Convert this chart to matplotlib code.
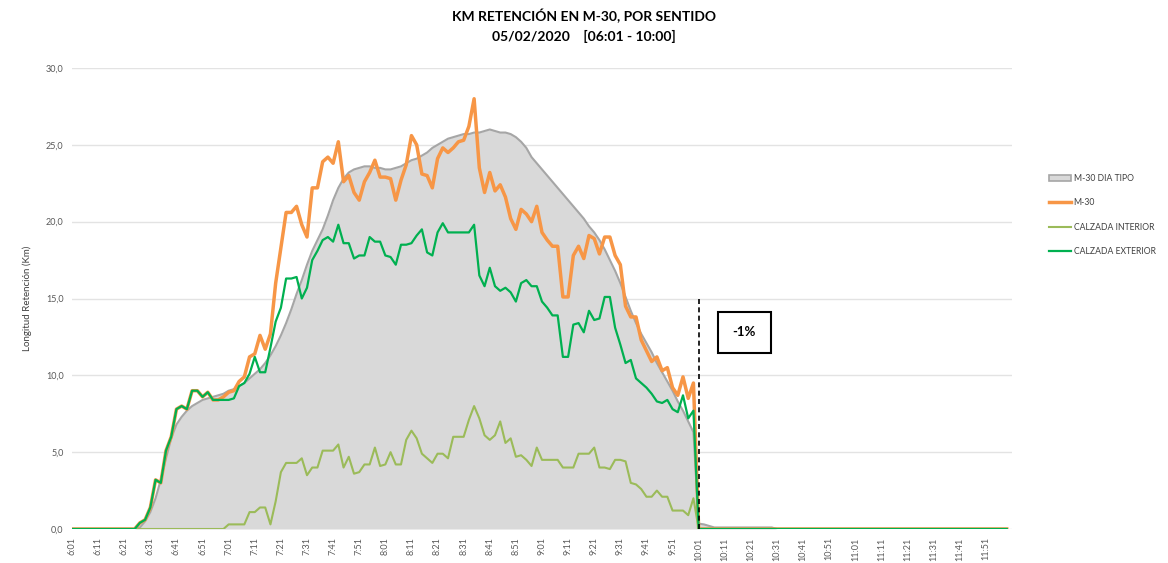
import numpy as np
import matplotlib
matplotlib.use("Agg")
import matplotlib.pyplot as plt
from matplotlib.patches import Patch
from matplotlib.lines import Line2D

plt.rcParams['font.family'] = ['Lato', 'DejaVu Sans']

# minutes after 6:01, sampled every 2 minutes up to 12:00
minutes = np.arange(0, 360, 2)
tick_minutes = np.arange(0, 360, 10)
tick_labels = ["%d:%02d" % (6 + (m + 1) // 60, (m + 1) % 60) for m in tick_minutes]

# M-30 DIA TIPO (typical day), km
dia_tipo = [0.0] * 13 + [
    0.1, 0.5, 1.1, 2.0, 3.2, 4.6, 5.9, 6.8, 7.3, 7.7,
    8.0, 8.2, 8.4, 8.5, 8.6, 8.7, 8.8, 9.0, 9.1, 9.3,
    9.5, 9.8, 10.1, 10.4, 10.8, 11.3, 11.9, 12.6, 13.4, 14.3,
    15.3, 16.2, 17.2, 18.1, 18.8, 19.5, 20.4, 21.4, 22.2, 22.8,
    23.2, 23.4, 23.5, 23.6, 23.6, 23.5, 23.5, 23.4, 23.4, 23.5,
    23.6, 23.8, 24.0, 24.1, 24.3, 24.5, 24.8, 25.0, 25.2, 25.4,
    25.5, 25.6, 25.7, 25.7, 25.8, 25.8, 25.9, 26.0, 25.9, 25.8,
    25.8, 25.7, 25.5, 25.2, 24.8, 24.2, 23.8, 23.4, 23.0, 22.6,
    22.2, 21.8, 21.4, 21.0, 20.6, 20.2, 19.7, 19.3, 18.8, 18.2,
    17.5, 16.8, 16.0, 15.1, 14.2, 13.4, 12.7, 12.1, 11.5, 10.8,
    10.2, 9.6, 9.0, 8.3, 7.7, 7.0, 6.3,
] + [0.35, 0.3, 0.2] + [0.1] * 12 + [0.0] * 45

# M-30 total
m30 = [0.0] * 13 + [
    0.4, 0.6, 1.4, 3.2, 3.0, 5.1, 6.0, 7.8, 8.0, 7.8,
    9.0, 9.0, 8.6, 8.9, 8.4, 8.4, 8.6, 8.9, 9.0, 9.6,
    9.9, 11.2, 11.4, 12.6, 11.7, 12.7, 16.0, 18.3, 20.6, 20.6,
    21.0, 19.8, 19.0, 22.2, 22.2, 23.9, 24.2, 23.8, 25.2, 22.6,
    23.0, 21.9, 21.4, 22.6, 23.2, 24.0, 22.9, 22.9, 22.8, 21.4,
    22.7, 23.7, 25.6, 25.0, 23.1, 23.0, 22.2, 24.1, 24.8, 24.5,
    24.8, 25.2, 25.3, 26.2, 28.0, 23.5, 21.9, 23.2, 22.0, 22.4,
    21.6, 20.2, 19.5, 20.8, 20.5, 20.0, 21.0, 19.3, 18.8, 18.4,
    18.4, 15.1, 15.1, 17.8, 18.4, 17.6, 19.1, 18.9, 17.9, 19.0,
    19.0, 17.8, 17.2, 14.5, 13.8, 13.8, 12.3, 11.6, 10.9, 11.2,
    10.3, 10.5, 9.2, 8.7, 9.9, 8.5, 9.5,
] + [0.0] * 60

# CALZADA INTERIOR
interior = [0.0] * 30 + [
    0.3, 0.3, 0.3, 0.3, 1.1, 1.1, 1.4, 1.4, 0.3, 1.8,
    3.7, 4.3, 4.3, 4.3, 4.6, 3.5, 4.0, 4.0, 5.1, 5.1,
    5.1, 5.5, 4.0, 4.7, 3.6, 3.7, 4.2, 4.2, 5.3, 4.1,
    4.2, 5.0, 4.2, 4.2, 5.8, 6.4, 5.9, 4.9, 4.6, 4.3,
    4.9, 4.9, 4.6, 6.0, 6.0, 6.0, 7.1, 8.0, 7.2, 6.1,
    5.8, 6.1, 7.0, 5.6, 5.9, 4.7, 4.8, 4.5, 4.1, 5.3,
    4.5, 4.5, 4.5, 4.5, 4.0, 4.0, 4.0, 4.9, 4.9, 4.9,
    5.3, 4.0, 4.0, 3.9, 4.5, 4.5, 4.4, 3.0, 2.9, 2.6,
    2.1, 2.1, 2.5, 2.1, 2.1, 1.2, 1.2, 1.2, 0.9, 2.0,
] + [0.0] * 60

# CALZADA EXTERIOR
exterior = [0.0] * 13 + [
    0.4, 0.6, 1.4, 3.2, 3.0, 5.1, 6.0, 7.8, 8.0, 7.8,
    9.0, 9.0, 8.6, 8.9, 8.4, 8.4, 8.4, 8.4, 8.5, 9.3,
    9.5, 10.1, 11.2, 10.2, 10.2, 11.8, 13.5, 14.4, 16.3, 16.3,
    16.4, 15.0, 15.7, 17.5, 18.1, 18.8, 19.0, 18.7, 19.8, 18.6,
    18.6, 17.6, 17.8, 17.8, 19.0, 18.7, 18.7, 17.8, 17.7, 17.2,
    18.5, 18.5, 18.6, 19.1, 19.5, 18.0, 17.8, 19.3, 19.9, 19.3,
    19.3, 19.3, 19.3, 19.3, 19.8, 16.5, 15.8, 17.0, 15.8, 15.5,
    15.7, 15.4, 14.8, 16.0, 16.2, 15.8, 15.8, 14.8, 14.4, 13.9,
    13.9, 11.2, 11.2, 13.3, 13.4, 12.8, 14.2, 13.6, 13.7, 15.1,
    15.1, 13.1, 12.0, 10.8, 11.0, 9.8, 9.5, 9.2, 8.8, 8.3,
    8.2, 8.4, 7.8, 7.6, 8.7, 7.2, 7.7,
] + [0.0] * 60

cambio = "-1%"

fig = plt.figure(figsize=(11.68, 5.63), dpi=100)
ax = fig.add_axes([72 / 1168, 34 / 563, 940 / 1168, 461 / 563])

ax.fill_between(minutes, dia_tipo, color="#d9d9d9", lw=0, zorder=2)
ax.plot(minutes, dia_tipo, color="#a6a6a6", lw=1.5, zorder=3)
ax.plot(minutes, m30, color="#f79646", lw=2.5, zorder=4)
ax.plot(minutes, interior, color="#9bbb59", lw=1.5, zorder=5)
ax.plot(minutes, exterior, color="#00b050", lw=1.6, zorder=6)

ax.vlines(240, 0, 15, colors="black", linestyles=(0, (3, 2)), lw=1.2, zorder=7)
ax.text(257.5, 12.8, cambio, fontsize=9.5, fontweight="bold", ha="center", va="center",
        bbox=dict(boxstyle="square,pad=1.1", fc="white", ec="black", lw=1.5), zorder=8)

ax.set_xlim(0, 360)
ax.set_ylim(0, 30)
ax.set_yticks(np.arange(0, 31, 5))
ax.set_yticklabels([("%.1f" % v).replace(".", ",") for v in np.arange(0, 31, 5)],
                   fontsize=6.5, color="#595959")
ax.set_xticks(tick_minutes)
ax.set_xticklabels(tick_labels, rotation=90, fontsize=6.5, color="#595959")
ax.tick_params(axis="both", length=0, pad=6)
ax.grid(axis="y", color="#e3e3e3", lw=1, zorder=0)
ax.set_axisbelow(True)
for s in ax.spines.values():
    s.set_visible(False)
ax.set_ylabel("Longitud Retención (Km)", fontsize=7, color="#404040", labelpad=10)

fig.suptitle("KM RETENCIÓN EN M-30, POR SENTIDO\n05/02/2020    [06:01 - 10:00]",
             x=0.5, y=0.985, fontsize=10, fontweight="bold", linespacing=1.6)

handles = [
    Patch(facecolor="#d9d9d9", edgecolor="#a6a6a6", lw=1.2),
    Line2D([], [], color="#f79646", lw=2.5),
    Line2D([], [], color="#9bbb59", lw=1.5),
    Line2D([], [], color="#00b050", lw=1.6),
]
labels = ["M-30 DIA TIPO", "M-30", "CALZADA INTERIOR", "CALZADA EXTERIOR"]
fig.legend(handles, labels, loc="upper left", bbox_to_anchor=(1046 / 1168, 1 - 171 / 563),
           frameon=False, fontsize=6.2, labelspacing=1.8, handlelength=2.6,
           handletextpad=0.3, labelcolor="#404040", borderaxespad=0, borderpad=0.3)

plt.savefig("out.png", dpi=100)
